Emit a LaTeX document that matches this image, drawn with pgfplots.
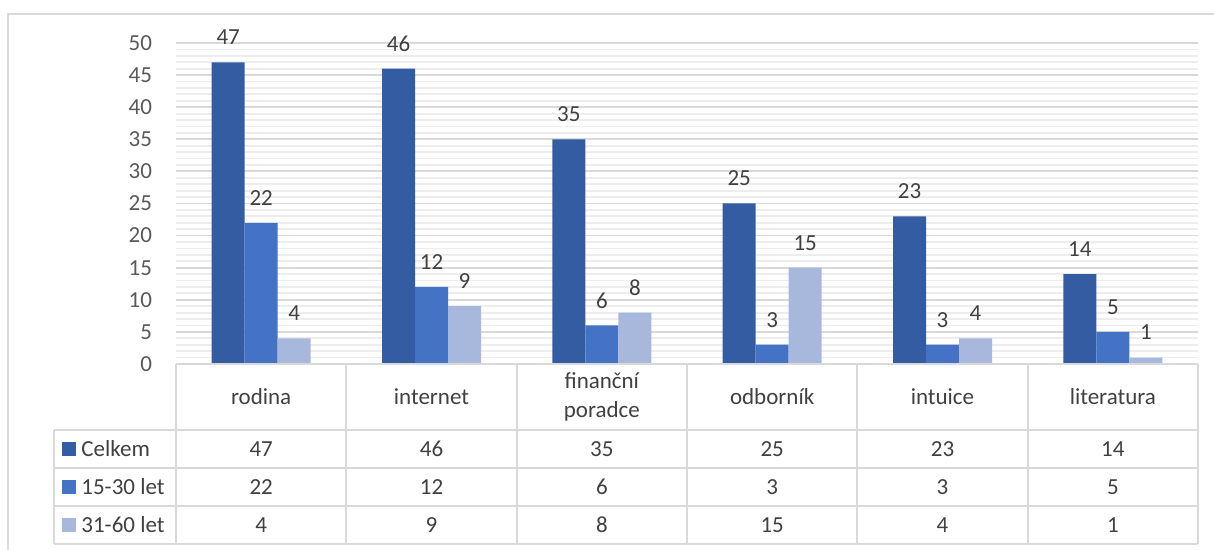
\documentclass[border=0pt]{standalone}
\usepackage{fontspec}
\setmainfont{Carlito}
\usepackage{pgfplots}
\pgfplotsset{compat=1.18}

\definecolor{cA}{HTML}{345CA2}
\definecolor{cB}{HTML}{4472C4}
\definecolor{cC}{HTML}{A8B7DC}
\definecolor{txt}{HTML}{404040}
\definecolor{ticktxt}{HTML}{595959}
\definecolor{gridmaj}{HTML}{D9D9D9}
\definecolor{gridmin}{HTML}{EDEDED}
\definecolor{rule}{HTML}{D9D9D9}

\begin{document}
\fontsize{11.5}{14.5}\selectfont
\begin{tikzpicture}
% pixel grid of the reference: 1px = 0.5pt, y downwards
\begin{scope}[x=0.5pt,y=-0.5pt]
  \useasboundingbox (0,0) rectangle (1214,550);
  \draw[rule, line width=1pt] (8,550) -- (8,14) -- (1214,14);
\end{scope}

\begin{axis}[
    at={(88pt,-182pt)}, anchor=south west,
    scale only axis,
    width=511pt, height=160.5pt,
    xmin=-0.5, xmax=5.5,
    ymin=0, ymax=50,
    ytick={0,5,...,50},
    minor y tick num=4,
    xtick=\empty,
    ymajorgrids, yminorgrids,
    major grid style={gridmaj, line width=0.9pt},
    minor grid style={gridmin, line width=0.9pt},
    axis line style={draw=none},
    tick style={draw=none},
    yticklabel style={text=ticktxt, xshift=-8pt},
    /pgf/number format/assume math mode=true,
    ybar=0pt,
    bar width=16.5pt,
    nodes near coords,
    every node near coord/.append style={text=txt, anchor=center, yshift=12.5pt},
    clip=false,
]
\addplot[fill=cA, draw=none] coordinates {(0,47) (1,46) (2,35) (3,25) (4,23) (5,14)};
\addplot[fill=cB, draw=none] coordinates {(0,22) (1,12) (2,6) (3,3) (4,3) (5,5)};
\addplot[fill=cC, draw=none] coordinates {(0,4) (1,9) (2,8) (3,15) (4,4) (5,1)};
\end{axis}

% data table under the plot
\begin{scope}[x=0.5pt,y=-0.5pt]
  \draw[rule, line width=1pt] (176,364) -- (1198,364);
  \foreach \yy in {430,468,506,544} \draw[rule, line width=1pt] (54,\yy) -- (1198,\yy);
  \draw[rule, line width=1pt] (54,430) -- (54,544);
  \foreach \i in {0,...,6} \draw[rule, line width=1pt] ({176+170.33*\i},364) -- ({176+170.33*\i},544);

  \foreach \lab [count=\i from 0] in {rodina,internet,{finanční\\poradce},odborník,intuice,literatura}
    \node[text=txt, align=center] at ({176+170.33*(\i+0.5)},397) {\lab};

  \foreach \v [count=\i from 0] in {47,46,35,25,23,14}
    \node[text=txt] at ({176+170.33*(\i+0.5)},449) {\v};
  \foreach \v [count=\i from 0] in {22,12,6,3,3,5}
    \node[text=txt] at ({176+170.33*(\i+0.5)},487) {\v};
  \foreach \v [count=\i from 0] in {4,9,8,15,4,1}
    \node[text=txt] at ({176+170.33*(\i+0.5)},525) {\v};

  \foreach \c/\lab/\yy in {cA/Celkem/449, cB/15-30 let/487, cC/31-60 let/525} {
    \fill[\c] (62,\yy-7) rectangle (76,\yy+7);
    \node[text=txt, anchor=west, inner sep=0pt] at (81,\yy) {\lab};
  }
\end{scope}
\end{tikzpicture}
\end{document}
